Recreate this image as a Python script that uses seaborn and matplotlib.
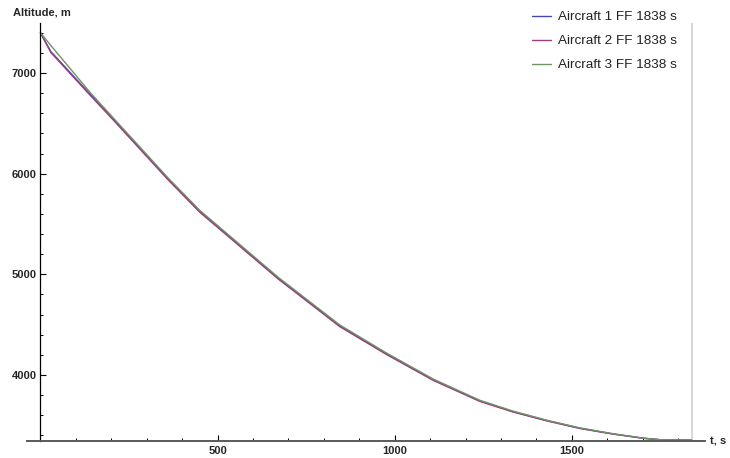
import numpy as np
import pandas as pd
import matplotlib
matplotlib.use("Agg")
import matplotlib.pyplot as plt
from matplotlib.ticker import FixedLocator, MultipleLocator
import seaborn as sns

# ---- data ----
t_s = [0, 29, 140, 205, 361, 450, 671, 845, 977, 1109, 1240, 1334, 1429, 1523, 1617, 1701, 1749, 1838]
alt_aircraft1 = [7400, 7215, 6790, 6545, 5945, 5625, 4962, 4488, 4210, 3952, 3743, 3636, 3547, 3471, 3414, 3372, 3357, 3352]
alt_aircraft2 = [7400, 7205, 6780, 6535, 5936, 5616, 4954, 4480, 4203, 3946, 3738, 3632, 3544, 3468, 3412, 3371, 3356, 3352]
alt_aircraft3 = [7400, 7275, 6808, 6556, 5955, 5635, 4971, 4497, 4218, 3959, 3749, 3641, 3551, 3474, 3416, 3373, 3357, 3352]
series_names = ["Aircraft 1 FF 1838 s", "Aircraft 2 FF 1838 s", "Aircraft 3 FF 1838 s"]
series_colors = ["#4646B4", "#A03C82", "#6E9461"]
x_ticks = [500, 1000, 1500]
y_ticks = [4000, 5000, 6000, 7000]
final_time = 1838

df = pd.concat([
    pd.DataFrame({"t": t_s, "alt": a, "series": n})
    for a, n in zip([alt_aircraft1, alt_aircraft2, alt_aircraft3], series_names)
])

sns.set_style("white")
plt.rcParams["font.family"] = ["Liberation Sans", "DejaVu Sans"]

fig = plt.figure(figsize=(7.3, 4.58), dpi=100)
ax = fig.add_axes([27 / 730, 1 - 440.7 / 458, (705 - 27) / 730, (440.7 - 23.3) / 458])

sns.lineplot(data=df, x="t", y="alt", hue="series", hue_order=series_names,
             palette=series_colors, lw=1.0, ax=ax, legend=True, sort=False)

ax.axvline(final_time, color="#d4d4d4", lw=1.3, zorder=0.5)

ax.set_xlim(-38, 1876)
ax.set_ylim(3347, 7494)

ax.spines["top"].set_visible(False)
ax.spines["right"].set_visible(False)
ax.spines["left"].set_position(("data", 0))
ax.spines["left"].set_color("black")
ax.spines["left"].set_linewidth(0.9)
ax.spines["bottom"].set_color("#5a5a5a")
ax.spines["bottom"].set_linewidth(1.4)

ax.xaxis.set_major_locator(FixedLocator(x_ticks))
ax.xaxis.set_minor_locator(MultipleLocator(100))
ax.yaxis.set_major_locator(FixedLocator(y_ticks))
ax.yaxis.set_minor_locator(MultipleLocator(200))
ax.tick_params(axis="both", which="both", bottom=True, left=True, top=False, right=False)
ax.tick_params(axis="both", which="major", direction="in", length=4, width=0.8,
               color="black", labelsize=8)
ax.tick_params(axis="both", which="minor", direction="in", length=2.5, width=0.7,
               color="black")
ax.tick_params(axis="x", which="major", pad=4)
ax.tick_params(axis="y", which="major", pad=2.5)
for lab in ax.get_xticklabels() + ax.get_yticklabels():
    lab.set_fontweight("bold")
ax.set_xlabel("")
ax.set_ylabel("")

fig.text(12.7 / 730, 1 - 12.7 / 458, "Altitude, m", fontsize=8, fontweight="bold",
         ha="left", va="center")
fig.text(710 / 730, 1 - 441 / 458, "t, s", fontsize=8, fontweight="bold",
         ha="left", va="center")

handles, labels = ax.get_legend_handles_labels()
leg = ax.legend(handles, labels, loc="upper left",
                bbox_to_anchor=(531.7 / 730, 1 - 11 / 458), bbox_transform=fig.transFigure,
                frameon=False, fontsize=9.7, handlelength=1.42, handletextpad=0.52,
                labelspacing=0.86, borderpad=0, borderaxespad=0)
for txt in leg.get_texts():
    txt.set_color("#222222")

fig.savefig("out.png", dpi=100)
